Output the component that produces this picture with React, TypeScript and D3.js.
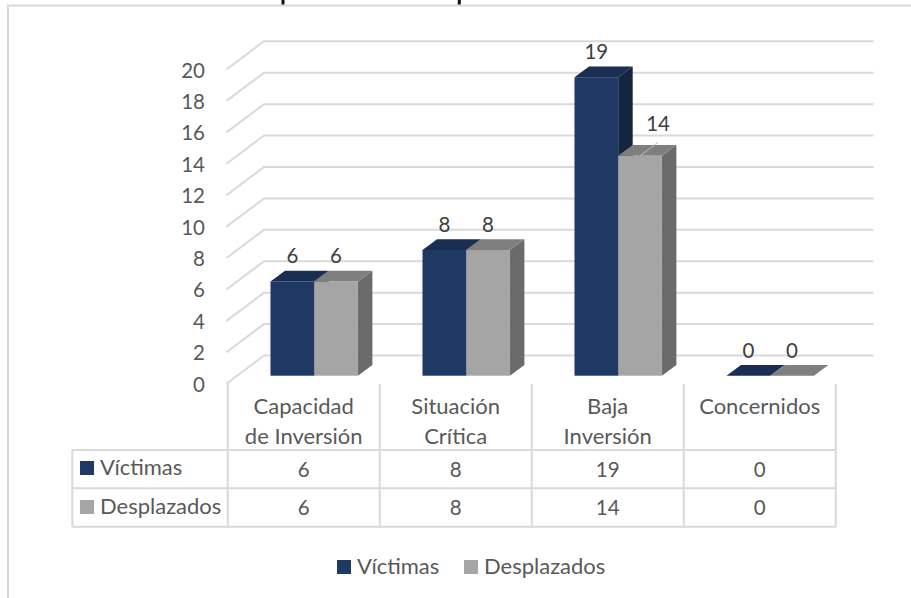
import React from "react";
import * as d3 from "d3";

const categories = [["Capacidad", "de Inversión"], ["Situación", "Crítica"], ["Baja", "Inversión"], ["Concernidos"]];
const victimas = [6, 8, 19, 0];
const desplazados = [6, 8, 14, 0];
const yTicks = [0, 2, 4, 6, 8, 10, 12, 14, 16, 18, 20];
const seriesNames = ["Víctimas", "Desplazados"];
const FONT = "Lato, 'Noto Sans', sans-serif";
const FS = 22;
const FN = 20.5;
const TXT = "#595959";
const LINE = "#d9d9d9";
const NAVY = ["#1f3864", "#1a2d52", "#15243f"];
const GREY = ["#a5a5a5", "#7f7f7f", "#6b6b6b"];

const y = d3.scaleLinear().domain([0, 20]).range([383.7, 69.5]);
const x = d3.scaleBand<number>().domain([0, 1, 2, 3]).range([227.7, 835.7]);
const BASE = 375.7;
const DX = 37.5, DY = -28.2;
const barTop = (v: number) => BASE - (y(0) - y(v));

function Bar({ bx, w, v, c }: { bx: number; w: number; v: number; c: string[] }) {
  const top = barTop(v);
  const h = 14.5, d = 10.7;
  return (
    <g>
      <polygon points={`${bx + w},${top} ${bx + w + h},${top - d} ${bx + w + h},${BASE - d} ${bx + w},${BASE}`} fill={c[2]} />
      <polygon points={`${bx},${top} ${bx + h},${top - d} ${bx + w + h},${top - d} ${bx + w},${top}`} fill={c[1]} />
      <rect x={bx} y={top} width={w} height={BASE - top} fill={c[0]} />
    </g>
  );
}

export default function App() {
  const w = 43.7;
  const barX = (i: number) => x(i)! + 42.8;
  const rows = [victimas, desplazados];
  const labelY = (v: number) => barTop(v) - (v === 14 ? 32.5 : 26);
  return (
    <svg width={911} height={598} style={{ position: "absolute", left: 0, top: 0, fontFamily: FONT }}>
      <rect width={911} height={598} fill="#fff" />
      <path d="M8,598V5.5H911" fill="none" stroke="#d9d9d9" strokeWidth={2} />
      <path d="M283,0V4.5M459.3,0V4.5" stroke="#111" strokeWidth={3} />
      {yTicks.map((t) => (
        <g key={t}>
          <path d={`M226.5,${y(t)}L${226.5 + DX},${y(t) + DY}H873.5`} fill="none" stroke={LINE} strokeWidth={2} />
          <text x={205} y={y(t)} textAnchor="end" dominantBaseline="central" fontSize={FN} fill={TXT}>{t}</text>
        </g>
      ))}
      {categories.map((_, i) => (
        <g key={i}>
          <Bar bx={barX(i)} w={w} v={victimas[i]} c={NAVY} />
          <Bar bx={barX(i) + w} w={w} v={desplazados[i]} c={GREY} />
          <text x={barX(i) + w / 2} y={labelY(victimas[i])} textAnchor="middle" dominantBaseline="central" fontSize={FN} fill="#404040">{victimas[i]}</text>
          <text x={barX(i) + w * 1.5 + (desplazados[i] === 14 ? 18 : 0)} y={labelY(desplazados[i])} textAnchor="middle" dominantBaseline="central" fontSize={FN} fill="#404040">{desplazados[i]}</text>
          {desplazados[i] === 14 && (
            <path d={`M${barX(i) + w * 1.5},${barTop(14)}L${barX(i) + w * 1.5 + 18},${barTop(14) - 13.5}`} stroke="#bfbfbf" strokeWidth={1} />
          )}
        </g>
      ))}
      {/* table */}
      <path d="M72.3,450H835.7M72.3,488.3H835.7M72.3,526.7H835.7M72.3,450V526.7" fill="none" stroke={LINE} strokeWidth={2} />
      {d3.range(5).map((i) => {
        const vx = x(0)! + i * x.bandwidth();
        return <path key={i} d={`M${vx},384V527.5`} stroke={LINE} strokeWidth={2} />;
      })}
      {categories.map((lines, i) => (
        <g key={i} textAnchor="middle" fill={TXT}>
          {lines.map((l, j) => (
            <text key={l} x={x(i)! + x.bandwidth() / 2} y={405.5 + j * 30} dominantBaseline="central" fontSize={FS}>{l}</text>
          ))}
          {rows.map((r, j) => (
            <text key={j} x={x(i)! + x.bandwidth() / 2} y={468.5 + j * 38.5} dominantBaseline="central" fontSize={FN}>{r[i]}</text>
          ))}
        </g>
      ))}
      {seriesNames.map((s, j) => (
        <g key={s}>
          <rect x={80} y={461 + j * 39} width={14} height={14} fill={j ? GREY[0] : NAVY[0]} />
          <text x={100} y={466.5 + j * 39} dominantBaseline="central" fontSize={FS} fill={TXT}>{s}</text>
        </g>
      ))}
      {seriesNames.map((s, j) => (
        <g key={s}>
          <rect x={j ? 464 : 337} y={560} width={14} height={14} fill={j ? GREY[0] : NAVY[0]} />
          <text x={j ? 484 : 357} y={565.5} dominantBaseline="central" fontSize={FS} fill={TXT}>{s}</text>
        </g>
      ))}
    </svg>
  );
}
